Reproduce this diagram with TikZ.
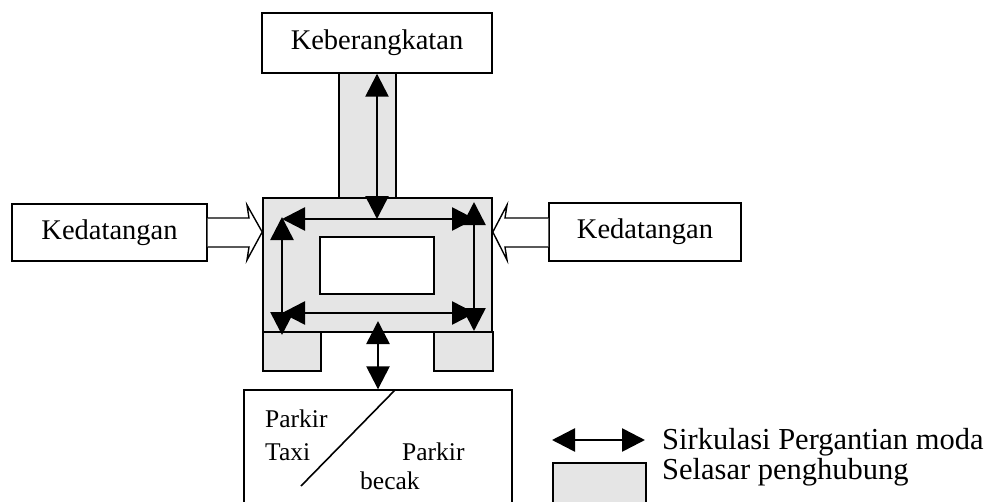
\documentclass[tikz,border=0pt]{standalone}
\usepackage{fontspec}
\setmainfont{Liberation Serif}
\usetikzlibrary{arrows.meta}
\begin{document}
\begin{tikzpicture}[x=1pt,y=-1pt,
  box/.style={draw=black,line width=1.4pt,fill=white,inner sep=0pt,
    font=\fontsize{28.5}{32}\selectfont},
  walk/.style={draw=black,line width=1.6pt,fill=black!10,inner sep=0pt},
  flow/.style={line width=2.6pt,
    {Triangle[length=23pt,width=23pt]}-{Triangle[length=23pt,width=23pt]}},
  inlet/.style={draw=black,line width=1.4pt,fill=white,line join=miter},
  lbl/.style={inner sep=0pt,font=\fontsize{25.5}{30}\selectfont},
  legend/.style={inner sep=0pt,anchor=west,font=\fontsize{30.5}{34}\selectfont}]
\useasboundingbox (0,0) rectangle (996,501);

% corridor blocks
\node[walk,minimum width=57pt,minimum height=125pt] (strip) at (367.5,135.5) {};
\node[walk,minimum width=229pt,minimum height=134pt] (hub) at (377.5,265) {};
\node[walk,minimum width=58pt,minimum height=39pt] (legL) at (292,351.5) {};
\node[walk,minimum width=59pt,minimum height=39pt] (legR) at (463.5,351.5) {};
\node[walk,fill=white,minimum width=114pt,minimum height=57pt] (core) at (377,265.5) {};

% destination boxes
\node[box,minimum width=230pt,minimum height=60pt] (keb) at (377,43) {Keberangkatan};
\node[box,minimum width=195pt,minimum height=57pt] (kedL) at (109.5,232.5) {Kedatangan};
\node[box,minimum width=192pt,minimum height=58pt] (kedR) at (645,232) {Kedatangan};

% parking area
\node[box,minimum width=268pt,minimum height=116pt] (park) at (378,448) {};
\coordinate (diagA) at (395,390);
\coordinate (diagB) at (301,486);
\draw[line width=1.6pt] (diagA) -- (diagB);
\node[lbl,anchor=west] (p1) at (265,419) {Parkir};
\node[lbl,anchor=west] (p2) at (265,452) {Taxi};
\node[lbl,anchor=west] (p3) at (402,452) {Parkir};
\node[lbl,anchor=west] (p4) at (360,481) {becak};

% incoming block arrows
\draw[inlet] (kedL.east |- 0,218) -- (249,218) -- (247,205) -- (hub.west |- 0,232)
  -- (247,260) -- (249,247) -- (kedL.east |- 0,247);
\draw[inlet] (kedR.west |- 0,218) -- (505,218) -- (507,205) -- (hub.east |- 0,232)
  -- (507,260) -- (505,247) -- (kedR.west |- 0,247);

% circulation loop corners
\coordinate (tl) at (282,219);
\coordinate (tr) at (475,219);
\coordinate (bl) at (282,313);
\coordinate (br) at (475,313);
\coordinate (tlv) at (282,217);
\coordinate (blv) at (282,335);
\coordinate (trv) at (474,202);
\coordinate (brv) at (474,331);
\coordinate (topIn) at (377,219);
\coordinate (botIn) at (378,321);

\draw[flow] (tl) -- (tr);
\draw[flow] (bl) -- (br);
\draw[flow] (tlv) -- (blv);
\draw[flow] (trv) -- (brv);
\draw[flow] (keb.south -| topIn) -- (topIn);
\draw[flow] (botIn) -- (park.north -| botIn);

% legend
\coordinate (lgA) at (552,440);
\coordinate (lgB) at (645,440);
\draw[flow] (lgA) -- (lgB);
\node[walk,minimum width=93pt,minimum height=44pt] (lgBox) at (599.5,485) {};
\node[legend] (lgT1) at (662,442) {Sirkulasi Pergantian moda};
\node[legend] (lgT2) at (662,472) {Selasar penghubung};
\end{tikzpicture}
\end{document}
